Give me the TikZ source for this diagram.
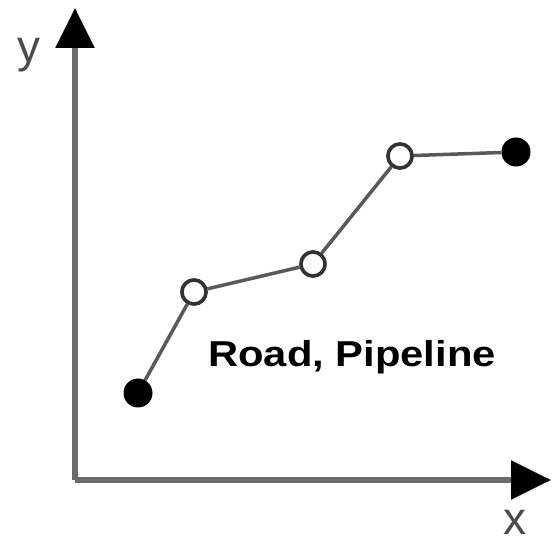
\documentclass[tikz,border=0pt]{standalone}
\usepackage{fontspec}
\setmainfont{Liberation Sans}
\usetikzlibrary{arrows.meta}
\begin{document}
\begin{tikzpicture}[x=1pt,y=-1pt,
  axis/.style={draw=black!58,line width=5.5pt,-{Triangle[length=40pt,width=38pt,color=black,fill=black]}},
  seg/.style={draw=black!65,line width=3.5pt},
  opendot/.style={circle,draw=black!80,line width=3.5pt,fill=white,minimum size=24pt,inner sep=0pt},
  fulldot/.style={circle,fill=black,minimum size=29pt,inner sep=0pt},
  axlabel/.style={text=black!70,font=\fontsize{46}{46}\selectfont,inner sep=0pt}]
\useasboundingbox (0,0) rectangle (552,545);
\coordinate (o) at (75,480);
\coordinate (ytip) at (75,8);
\coordinate (xtip) at (551,480);
\draw[axis] (o) -- (ytip);
\draw[axis] (o) -- (xtip);
\node[axlabel] (ylab) at (29,55) {y};
\node[axlabel] (xlab) at (515,522) {x};
\node[fulldot] (p1) at (138,393) {};
\node[opendot] (p2) at (194,292) {};
\node[opendot] (p3) at (313,264) {};
\node[opendot] (p4) at (400,156) {};
\node[fulldot] (p5) at (516,152) {};
\draw[seg] (p1) -- (p2) -- (p3) -- (p4) -- (p5);
\node[opendot] at (p2) {};
\node[opendot] at (p3) {};
\node[opendot] at (p4) {};
\node[font=\bfseries\fontsize{36}{36}\selectfont,xscale=1.16,inner sep=0pt,anchor=base] (lbl) at (352,367) {Road, Pipeline};
\end{tikzpicture}
\end{document}
